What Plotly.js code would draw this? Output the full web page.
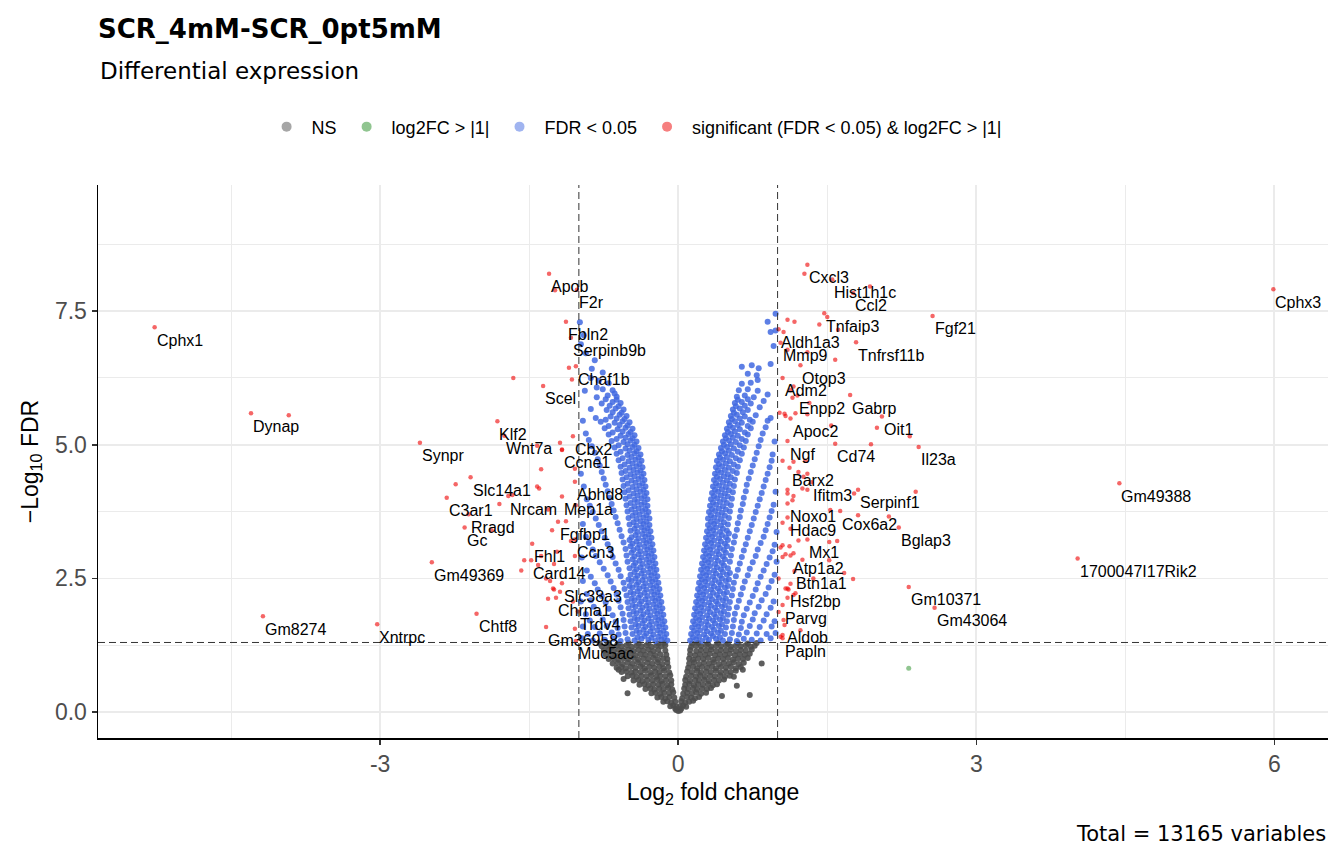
<!DOCTYPE html>
<html>
<head>
<meta charset="utf-8">
<script src="https://cdn.plot.ly/plotly-3.0.1.min.js"></script>
<style>
  html, body { margin: 0; padding: 0; background: #fff; }
  #plot { width: 1344px; height: 864px; }
</style>
</head>
<body>
<div id="plot"></div>
<script>
// thresholds used for the dashed cut-off lines
const fcCutoff = 1;
const fdrCutoff = 0.05;

// non-significant genes [log2FC, -log10 FDR]
const nsPoints = [
  [-0.02,0.04],[0.02,0.03],[0,0.02],[-0.03,0.06],[0.03,0.06],
  [-0.08,0.11],[-0.05,0.12],[-0.02,0.10],[0.02,0.11],[0.05,0.12],[0.08,0.10],
  [-0.15,0.19],[-0.11,0.20],[-0.07,0.18],[-0.03,0.19],[0.03,0.20],[0.07,0.18],[0.11,0.19],[0.15,0.21],
  [-0.21,0.27],[-0.17,0.28],[-0.13,0.26],[-0.09,0.28],[-0.04,0.27],[0.04,0.26],[0.09,0.28],[0.13,0.27],[0.17,0.26],[0.21,0.28],
  [-0.27,0.35],[-0.23,0.36],[-0.18,0.34],[-0.14,0.36],[-0.09,0.35],[-0.05,0.37],[0.05,0.34],[0.09,0.36],[0.14,0.35],[0.18,0.37],[0.23,0.34],[0.28,0.36],
  [-0.33,0.43],[-0.28,0.44],[-0.24,0.42],[-0.19,0.44],[-0.15,0.43],[-0.10,0.45],[-0.06,0.42],[0.06,0.44],[0.10,0.43],[0.15,0.45],[0.19,0.42],[0.24,0.44],[0.29,0.43],[0.33,0.45],
  [-0.39,0.51],[-0.34,0.52],[-0.30,0.50],[-0.25,0.52],[-0.20,0.51],[-0.16,0.53],[-0.11,0.50],[-0.07,0.52],[0.07,0.51],[0.11,0.53],[0.16,0.50],[0.20,0.52],[0.25,0.51],[0.30,0.53],[0.35,0.50],[0.39,0.52],
  [-0.45,0.59],[-0.40,0.60],[-0.36,0.58],[-0.31,0.60],[-0.26,0.59],[-0.21,0.61],[-0.17,0.58],[-0.12,0.60],[-0.07,0.59],[0.07,0.60],[0.12,0.58],[0.17,0.60],[0.21,0.59],[0.26,0.61],[0.31,0.58],[0.36,0.60],[0.41,0.59],[0.46,0.61],
  [-0.51,0.67],[-0.46,0.68],[-0.42,0.66],[-0.37,0.68],[-0.32,0.67],[-0.27,0.69],[-0.22,0.66],[-0.18,0.68],[-0.13,0.67],[-0.08,0.69],[0.08,0.66],[0.13,0.68],[0.18,0.67],[0.22,0.69],[0.27,0.66],[0.32,0.68],[0.37,0.67],[0.42,0.69],[0.47,0.66],[0.52,0.68],
  [-0.57,0.75],[-0.52,0.76],[-0.47,0.74],[-0.43,0.76],[-0.38,0.75],[-0.33,0.77],[-0.28,0.74],[-0.23,0.76],[-0.19,0.75],[-0.14,0.77],[-0.09,0.74],[0.09,0.76],[0.14,0.75],[0.19,0.77],[0.23,0.74],[0.28,0.76],[0.33,0.75],[0.38,0.77],[0.43,0.74],[0.48,0.76],[0.53,0.75],[0.58,0.77],
  [-0.62,0.83],[-0.57,0.84],[-0.53,0.82],[-0.48,0.84],[-0.43,0.83],[-0.38,0.85],[-0.34,0.82],[-0.29,0.84],[-0.24,0.83],[-0.19,0.85],[-0.15,0.82],[-0.10,0.84],[0.10,0.83],[0.15,0.85],[0.19,0.82],[0.24,0.84],[0.29,0.83],[0.34,0.85],[0.38,0.82],[0.43,0.84],[0.48,0.83],[0.53,0.85],[0.58,0.82],[0.63,0.84],
  [-0.66,0.91],[-0.61,0.92],[-0.56,0.90],[-0.51,0.92],[-0.46,0.91],[-0.41,0.93],[-0.36,0.90],[-0.31,0.92],[-0.26,0.91],[-0.21,0.93],[-0.16,0.90],[-0.11,0.92],[0.11,0.91],[0.16,0.93],[0.21,0.90],[0.26,0.92],[0.31,0.91],[0.36,0.93],[0.41,0.90],[0.46,0.92],[0.51,0.91],[0.56,0.93],[0.61,0.90],[0.66,0.92],
  [-0.70,0.99],[-0.65,1.00],[-0.60,0.98],[-0.55,1.00],[-0.50,0.99],[-0.45,1.01],[-0.40,0.98],[-0.35,1.00],[-0.30,0.99],[-0.25,1.01],[-0.20,0.98],[-0.15,1.00],[-0.11,0.99],[0.11,1.00],[0.15,0.98],[0.20,1.00],[0.25,0.99],[0.30,1.01],[0.35,0.98],[0.40,1.00],[0.45,0.99],[0.50,1.01],[0.55,0.98],[0.60,1.00],[0.65,0.99],[0.70,1.01],
  [-0.73,1.07],[-0.68,1.08],[-0.63,1.06],[-0.58,1.08],[-0.53,1.07],[-0.48,1.09],[-0.43,1.06],[-0.38,1.08],[-0.33,1.07],[-0.28,1.09],[-0.23,1.06],[-0.18,1.08],[-0.12,1.07],[0.12,1.08],[0.17,1.06],[0.22,1.08],[0.27,1.07],[0.32,1.09],[0.37,1.06],[0.42,1.08],[0.47,1.07],[0.52,1.09],[0.57,1.06],[0.62,1.08],[0.67,1.07],[0.72,1.09],
  [-0.75,1.15],[-0.70,1.16],[-0.65,1.14],[-0.60,1.16],[-0.55,1.15],[-0.50,1.17],[-0.45,1.14],[-0.40,1.16],[-0.35,1.15],[-0.30,1.17],[-0.25,1.14],[-0.20,1.16],[-0.13,1.15],[0.12,1.16],[0.18,1.14],[0.23,1.16],[0.28,1.15],[0.33,1.17],[0.38,1.14],[0.43,1.16],[0.48,1.15],[0.53,1.17],[0.58,1.14],[0.63,1.16],[0.68,1.15],[0.74,1.17],
  [-0.77,1.23],[-0.72,1.24],[-0.67,1.22],[-0.62,1.24],[-0.57,1.23],[-0.52,1.25],[-0.47,1.22],[-0.42,1.24],[-0.37,1.23],[-0.32,1.25],[-0.27,1.22],[-0.22,1.24],[-0.17,1.23],[-0.13,1.25],[0.13,1.22],[0.18,1.24],[0.23,1.23],[0.28,1.25],[0.33,1.22],[0.38,1.24],[0.43,1.23],[0.48,1.25],[0.53,1.22],[0.58,1.24],[0.63,1.23],[0.68,1.25],[0.73,1.22],[0.77,1.24],
  [-0.79,1.28],[-0.70,1.29],[-0.60,1.28],[-0.50,1.29],[-0.40,1.28],[-0.30,1.29],[-0.20,1.28],[-0.14,1.29],[0.14,1.28],[0.20,1.29],[0.30,1.28],[0.40,1.29],[0.50,1.28],[0.60,1.29],[0.70,1.28],[0.79,1.29],
  [-0.51,0.35],[0.44,0.30],[0.72,0.32],[0.59,0.49],[0.65,0.79],[0.84,0.91],[-0.60,0.79],[-0.55,0.62],[0.56,0.66]
];

// |log2FC| > 1 but FDR not significant
const fcPoints = [[2.32,0.82]];

// FDR < 0.05, down side
const fdrDown = [
  [-0.11,1.34],[-0.17,1.36],[-0.23,1.33],[-0.30,1.35],[-0.37,1.37],[-0.44,1.34],[-0.51,1.36],[-0.58,1.33],[-0.65,1.37],[-0.74,1.35],[-0.86,1.34],[-0.97,1.38],
  [-0.12,1.46],[-0.18,1.48],[-0.25,1.45],[-0.32,1.47],[-0.39,1.49],[-0.46,1.46],[-0.53,1.48],[-0.60,1.45],[-0.67,1.49],[-0.79,1.47],[-0.91,1.46],
  [-0.13,1.58],[-0.19,1.60],[-0.26,1.57],[-0.33,1.59],[-0.40,1.61],[-0.47,1.58],[-0.54,1.60],[-0.61,1.57],[-0.72,1.61],[-0.84,1.59],[-0.96,1.60],
  [-0.14,1.70],[-0.20,1.72],[-0.27,1.69],[-0.34,1.71],[-0.41,1.73],[-0.48,1.70],[-0.55,1.72],[-0.63,1.69],[-0.76,1.73],[-0.89,1.71],
  [-0.15,1.82],[-0.21,1.84],[-0.28,1.81],[-0.35,1.83],[-0.42,1.85],[-0.49,1.82],[-0.56,1.84],[-0.66,1.81],[-0.80,1.85],[-0.93,1.83],
  [-0.16,1.94],[-0.22,1.96],[-0.29,1.93],[-0.36,1.95],[-0.43,1.97],[-0.50,1.94],[-0.58,1.96],[-0.70,1.93],[-0.85,1.97],
  [-0.17,2.06],[-0.23,2.08],[-0.30,2.05],[-0.37,2.07],[-0.44,2.09],[-0.51,2.06],[-0.60,2.08],[-0.73,2.05],[-0.88,2.09],[-0.98,2.07],
  [-0.18,2.18],[-0.24,2.20],[-0.31,2.17],[-0.38,2.19],[-0.45,2.21],[-0.52,2.18],[-0.62,2.20],[-0.77,2.17],[-0.92,2.21],
  [-0.19,2.30],[-0.25,2.32],[-0.32,2.29],[-0.39,2.31],[-0.46,2.33],[-0.54,2.30],[-0.65,2.32],[-0.81,2.29],
  [-0.20,2.42],[-0.26,2.44],[-0.33,2.41],[-0.40,2.43],[-0.47,2.45],[-0.55,2.42],[-0.68,2.44],[-0.84,2.41],[-0.96,2.45],
  [-0.21,2.54],[-0.27,2.56],[-0.34,2.53],[-0.41,2.55],[-0.48,2.57],[-0.58,2.54],[-0.71,2.56],[-0.88,2.53],
  [-0.22,2.66],[-0.28,2.68],[-0.35,2.65],[-0.42,2.67],[-0.49,2.69],[-0.60,2.66],[-0.75,2.68],[-0.92,2.65],
  [-0.23,2.78],[-0.29,2.80],[-0.36,2.77],[-0.43,2.79],[-0.51,2.81],[-0.63,2.78],[-0.79,2.80],
  [-0.24,2.90],[-0.30,2.92],[-0.37,2.89],[-0.44,2.91],[-0.52,2.93],[-0.66,2.90],[-0.83,2.92],[-0.97,2.89],
  [-0.25,3.02],[-0.31,3.04],[-0.38,3.01],[-0.45,3.03],[-0.53,3.05],[-0.68,3.02],[-0.86,3.04],
  [-0.26,3.14],[-0.32,3.16],[-0.39,3.13],[-0.46,3.15],[-0.55,3.17],[-0.71,3.14],[-0.90,3.16],
  [-0.27,3.26],[-0.33,3.28],[-0.40,3.25],[-0.47,3.27],[-0.57,3.29],[-0.74,3.26],[-0.93,3.28],
  [-0.28,3.38],[-0.34,3.40],[-0.41,3.37],[-0.48,3.39],[-0.59,3.41],[-0.77,3.38],
  [-0.29,3.50],[-0.35,3.52],[-0.42,3.49],[-0.49,3.51],[-0.61,3.53],[-0.80,3.50],[-0.96,3.52],
  [-0.29,3.62],[-0.35,3.64],[-0.42,3.61],[-0.50,3.63],[-0.63,3.65],[-0.83,3.62],
  [-0.30,3.74],[-0.36,3.76],[-0.43,3.73],[-0.51,3.75],[-0.65,3.77],[-0.86,3.74],
  [-0.31,3.86],[-0.37,3.88],[-0.44,3.85],[-0.52,3.87],[-0.67,3.89],[-0.89,3.86],
  [-0.31,3.98],[-0.37,4.00],[-0.44,3.97],[-0.53,3.99],[-0.69,4.01],[-0.92,3.98],
  [-0.32,4.10],[-0.38,4.12],[-0.45,4.09],[-0.54,4.11],[-0.71,4.13],
  [-0.33,4.22],[-0.39,4.24],[-0.46,4.21],[-0.55,4.23],[-0.73,4.25],[-0.95,4.22],
  [-0.34,4.34],[-0.40,4.36],[-0.47,4.33],[-0.56,4.35],[-0.75,4.37],
  [-0.35,4.46],[-0.41,4.48],[-0.48,4.45],[-0.57,4.47],[-0.77,4.49],[-0.98,4.46],
  [-0.36,4.58],[-0.42,4.60],[-0.49,4.57],[-0.58,4.59],[-0.79,4.61],
  [-0.37,4.70],[-0.43,4.72],[-0.50,4.69],[-0.60,4.71],[-0.81,4.73],
  [-0.38,4.82],[-0.44,4.84],[-0.51,4.81],[-0.62,4.83],[-0.84,4.85],
  [-0.40,4.94],[-0.46,4.96],[-0.53,4.93],[-0.64,4.95],[-0.87,4.97],
  [-0.42,5.06],[-0.48,5.08],[-0.55,5.05],[-0.67,5.07],[-0.90,5.09],
  [-0.44,5.18],[-0.50,5.20],[-0.58,5.17],[-0.70,5.19],[-0.93,5.21],
  [-0.46,5.30],[-0.53,5.32],[-0.61,5.29],[-0.74,5.31],
  [-0.49,5.42],[-0.56,5.44],[-0.64,5.41],[-0.78,5.43],[-0.96,5.45],
  [-0.52,5.54],[-0.59,5.56],[-0.68,5.53],[-0.83,5.50],
  [-0.55,5.66],[-0.63,5.68],[-0.72,5.65],[-0.88,5.67],
  [-0.58,5.78],[-0.66,5.80],[-0.77,5.77],
  [-0.62,5.90],[-0.64,5.96],[-0.71,5.92],[-0.82,5.89],
  [-0.66,6.02],[-0.76,6.04],[-0.82,6.07],[-0.94,6.01],
  [-0.70,6.15],[-0.80,6.20],[-0.88,6.25],
  [-0.76,6.35],[-0.87,6.42],[-0.84,6.58],[-0.93,6.71],[-0.98,6.88],[-0.95,7.05],[-0.99,7.29]
];

// FDR < 0.05, down side, crowded part next to the NS wedge
const fdrDownCore = [
  [-0.14,1.40],[-0.20,1.41],[-0.27,1.39],[-0.34,1.42],[-0.41,1.40],
  [-0.15,1.52],[-0.21,1.53],[-0.28,1.51],[-0.35,1.54],[-0.42,1.52],
  [-0.16,1.64],[-0.22,1.65],[-0.29,1.63],[-0.36,1.66],[-0.43,1.64],
  [-0.17,1.76],[-0.23,1.77],[-0.30,1.75],[-0.37,1.78],[-0.44,1.76],
  [-0.18,1.88],[-0.24,1.89],[-0.31,1.87],[-0.38,1.90],[-0.45,1.88],
  [-0.19,2.00],[-0.25,2.01],[-0.32,1.99],[-0.39,2.02],[-0.46,2.00],
  [-0.20,2.12],[-0.26,2.13],[-0.33,2.11],[-0.40,2.14],[-0.47,2.12],
  [-0.21,2.24],[-0.27,2.25],[-0.34,2.23],[-0.41,2.26],[-0.48,2.24],
  [-0.22,2.36],[-0.28,2.37],[-0.35,2.35],[-0.42,2.38],[-0.49,2.36],
  [-0.23,2.48],[-0.29,2.49],[-0.36,2.47],[-0.43,2.50],[-0.50,2.48],
  [-0.24,2.60],[-0.30,2.61],[-0.37,2.59],[-0.44,2.62],
  [-0.25,2.72],[-0.31,2.73],[-0.38,2.71],[-0.45,2.74],
  [-0.26,2.84],[-0.32,2.85],[-0.39,2.83],[-0.46,2.86],
  [-0.27,2.96],[-0.33,2.97],[-0.40,2.95],[-0.47,2.98],
  [-0.28,3.08],[-0.34,3.09],[-0.41,3.07],[-0.48,3.10],
  [-0.29,3.20],[-0.35,3.21],[-0.42,3.19],[-0.49,3.22],
  [-0.30,3.32],[-0.36,3.33],[-0.43,3.31],
  [-0.31,3.44],[-0.37,3.45],[-0.44,3.43],
  [-0.32,3.56],[-0.38,3.57],[-0.45,3.55],
  [-0.32,3.68],[-0.39,3.69],[-0.46,3.67],
  [-0.33,3.80],[-0.40,3.81],[-0.47,3.79],
  [-0.34,3.92],[-0.41,3.93],[-0.48,3.91],
  [-0.34,4.04],[-0.41,4.05],[-0.49,4.03],
  [-0.35,4.16],[-0.42,4.17],[-0.50,4.15],
  [-0.36,4.28],[-0.43,4.29],[-0.51,4.27],
  [-0.37,4.40],[-0.44,4.41],[-0.52,4.39],
  [-0.38,4.52],[-0.45,4.53],[-0.53,4.51],
  [-0.39,4.64],[-0.46,4.65],[-0.54,4.63],
  [-0.40,4.76],[-0.47,4.77],[-0.56,4.75],
  [-0.42,4.88],[-0.49,4.89],[-0.58,4.87],
  [-0.44,5.00],[-0.51,5.01],[-0.60,4.99],
  [-0.46,5.12],[-0.53,5.13],[-0.62,5.11],
  [-0.48,5.24],[-0.56,5.25],[-0.66,5.23],
  [-0.51,5.36],[-0.59,5.37],[-0.70,5.35],
  [-0.54,5.48],[-0.62,5.49],[-0.73,5.47],
  [-0.57,5.60],[-0.66,5.61],
  [-0.60,5.72],[-0.69,5.73],
  [-0.62,5.84],[-0.73,5.85]
];

// FDR < 0.05, up side
const fdrUp = [
  [0.12,1.34],[0.18,1.36],[0.24,1.33],[0.31,1.35],[0.38,1.37],[0.45,1.34],[0.52,1.36],[0.59,1.33],[0.66,1.37],[0.74,1.35],[0.83,1.34],[0.93,1.38],
  [0.13,1.46],[0.19,1.48],[0.26,1.45],[0.33,1.47],[0.40,1.49],[0.47,1.46],[0.54,1.48],[0.61,1.45],[0.69,1.49],[0.79,1.47],[0.89,1.46],[0.98,1.48],
  [0.14,1.58],[0.20,1.60],[0.27,1.57],[0.34,1.59],[0.41,1.61],[0.48,1.58],[0.55,1.60],[0.63,1.57],[0.72,1.61],[0.82,1.59],[0.94,1.60],
  [0.15,1.70],[0.21,1.72],[0.28,1.69],[0.35,1.71],[0.42,1.73],[0.49,1.70],[0.56,1.72],[0.64,1.69],[0.75,1.73],[0.86,1.71],[0.97,1.70],
  [0.16,1.82],[0.22,1.84],[0.29,1.81],[0.36,1.83],[0.43,1.85],[0.50,1.82],[0.57,1.84],[0.66,1.81],[0.77,1.85],[0.89,1.83],
  [0.17,1.94],[0.23,1.96],[0.30,1.93],[0.37,1.95],[0.44,1.97],[0.51,1.94],[0.59,1.96],[0.69,1.93],[0.81,1.97],[0.93,1.95],
  [0.18,2.06],[0.24,2.08],[0.31,2.05],[0.38,2.07],[0.45,2.09],[0.52,2.06],[0.61,2.08],[0.72,2.05],[0.84,2.09],[0.96,2.07],
  [0.19,2.18],[0.25,2.20],[0.32,2.17],[0.39,2.19],[0.46,2.21],[0.54,2.18],[0.63,2.20],[0.75,2.17],[0.88,2.21],
  [0.20,2.30],[0.26,2.32],[0.33,2.29],[0.40,2.31],[0.47,2.33],[0.55,2.30],[0.65,2.32],[0.78,2.29],[0.91,2.33],
  [0.21,2.42],[0.27,2.44],[0.34,2.41],[0.41,2.43],[0.48,2.45],[0.56,2.42],[0.67,2.44],[0.80,2.41],[0.94,2.45],
  [0.22,2.54],[0.28,2.56],[0.35,2.53],[0.42,2.55],[0.49,2.57],[0.58,2.54],[0.70,2.56],[0.83,2.53],[0.97,2.57],
  [0.23,2.66],[0.29,2.68],[0.36,2.65],[0.43,2.67],[0.50,2.69],[0.60,2.66],[0.72,2.68],[0.86,2.65],
  [0.24,2.78],[0.30,2.80],[0.37,2.77],[0.44,2.79],[0.52,2.81],[0.62,2.78],[0.75,2.80],[0.89,2.77],[0.99,2.81],
  [0.25,2.90],[0.31,2.92],[0.38,2.89],[0.45,2.91],[0.53,2.93],[0.64,2.90],[0.78,2.92],[0.92,2.89],
  [0.26,3.02],[0.32,3.04],[0.39,3.01],[0.46,3.03],[0.54,3.05],[0.66,3.02],[0.80,3.04],[0.95,3.01],
  [0.27,3.14],[0.33,3.16],[0.40,3.13],[0.47,3.15],[0.56,3.17],[0.68,3.14],[0.83,3.16],[0.97,3.13],
  [0.28,3.26],[0.34,3.28],[0.41,3.25],[0.48,3.27],[0.57,3.29],[0.70,3.26],[0.86,3.28],
  [0.29,3.38],[0.35,3.40],[0.42,3.37],[0.49,3.39],[0.59,3.41],[0.72,3.38],[0.88,3.40],[0.99,3.37],
  [0.30,3.50],[0.36,3.52],[0.43,3.49],[0.50,3.51],[0.60,3.53],[0.74,3.50],[0.90,3.52],
  [0.30,3.62],[0.36,3.64],[0.43,3.61],[0.51,3.63],[0.62,3.65],[0.76,3.62],[0.92,3.64],
  [0.31,3.74],[0.37,3.76],[0.44,3.73],[0.52,3.75],[0.63,3.77],[0.78,3.74],[0.94,3.76],
  [0.32,3.86],[0.38,3.88],[0.45,3.85],[0.53,3.87],[0.65,3.89],[0.80,3.86],[0.96,3.88],
  [0.33,3.98],[0.39,4.00],[0.46,3.97],[0.54,3.99],[0.66,4.01],[0.82,3.98],
  [0.34,4.10],[0.40,4.12],[0.47,4.09],[0.55,4.11],[0.68,4.13],[0.84,4.10],[0.98,4.12],
  [0.35,4.22],[0.41,4.24],[0.48,4.21],[0.56,4.23],[0.69,4.25],[0.86,4.22],
  [0.36,4.34],[0.42,4.36],[0.49,4.33],[0.57,4.35],[0.71,4.37],[0.88,4.34],
  [0.37,4.46],[0.43,4.48],[0.50,4.45],[0.59,4.47],[0.73,4.49],[0.90,4.46],
  [0.38,4.58],[0.44,4.60],[0.51,4.57],[0.60,4.59],[0.75,4.61],[0.92,4.58],
  [0.39,4.70],[0.45,4.72],[0.52,4.69],[0.62,4.71],[0.77,4.73],[0.94,4.70],
  [0.41,4.82],[0.47,4.84],[0.54,4.81],[0.64,4.83],[0.79,4.85],[0.95,4.82],
  [0.43,4.94],[0.49,4.96],[0.56,4.93],[0.66,4.95],[0.81,4.97],
  [0.45,5.06],[0.51,5.08],[0.58,5.05],[0.68,5.07],[0.83,5.09],[0.97,5.06],
  [0.47,5.18],[0.53,5.20],[0.60,5.17],[0.70,5.19],[0.85,5.21],
  [0.49,5.30],[0.55,5.32],[0.62,5.29],[0.73,5.31],[0.88,5.33],
  [0.51,5.42],[0.57,5.44],[0.64,5.41],[0.75,5.43],[0.90,5.45],
  [0.53,5.54],[0.59,5.56],[0.67,5.53],[0.78,5.55],[0.93,5.50],
  [0.55,5.66],[0.62,5.68],[0.70,5.65],[0.82,5.70],
  [0.57,5.78],[0.64,5.80],[0.73,5.77],[0.86,5.82],
  [0.59,5.90],[0.67,5.92],[0.76,5.89],[0.90,5.94],
  [0.61,6.02],[0.70,6.04],[0.80,6.01],
  [0.64,6.14],[0.73,6.16],[0.80,6.21],
  [0.70,6.33],[0.79,6.30],[0.64,6.46],[0.74,6.49],[0.81,6.43],[0.93,6.51],[0.96,6.85],[0.93,7.11],[0.98,7.14],[0.90,7.30],[0.98,7.45]
];

// FDR < 0.05, up side, crowded part next to the NS wedge
const fdrUpCore = [
  [0.15,1.40],[0.21,1.41],[0.28,1.39],[0.35,1.42],[0.42,1.40],
  [0.16,1.52],[0.22,1.53],[0.29,1.51],[0.36,1.54],[0.43,1.52],
  [0.17,1.64],[0.23,1.65],[0.30,1.63],[0.37,1.66],[0.44,1.64],
  [0.18,1.76],[0.24,1.77],[0.31,1.75],[0.38,1.78],[0.45,1.76],
  [0.19,1.88],[0.25,1.89],[0.32,1.87],[0.39,1.90],[0.46,1.88],
  [0.20,2.00],[0.26,2.01],[0.33,1.99],[0.40,2.02],[0.47,2.00],
  [0.21,2.12],[0.27,2.13],[0.34,2.11],[0.41,2.14],[0.48,2.12],
  [0.22,2.24],[0.28,2.25],[0.35,2.23],[0.42,2.26],[0.49,2.24],
  [0.23,2.36],[0.29,2.37],[0.36,2.35],[0.43,2.38],[0.50,2.36],
  [0.24,2.48],[0.30,2.49],[0.37,2.47],[0.44,2.50],[0.51,2.48],
  [0.25,2.60],[0.31,2.61],[0.38,2.59],[0.45,2.62],[0.52,2.60],
  [0.26,2.72],[0.32,2.73],[0.39,2.71],[0.46,2.74],
  [0.27,2.84],[0.33,2.85],[0.40,2.83],[0.47,2.86],
  [0.28,2.96],[0.34,2.97],[0.41,2.95],[0.48,2.98],
  [0.29,3.08],[0.35,3.09],[0.42,3.07],[0.49,3.10],
  [0.30,3.20],[0.36,3.21],[0.43,3.19],[0.50,3.22],
  [0.31,3.32],[0.37,3.33],[0.44,3.31],[0.51,3.34],
  [0.32,3.44],[0.38,3.45],[0.45,3.43],
  [0.33,3.56],[0.39,3.57],[0.46,3.55],
  [0.33,3.68],[0.40,3.69],[0.47,3.67],
  [0.34,3.80],[0.41,3.81],[0.48,3.79],
  [0.35,3.92],[0.42,3.93],[0.49,3.91],
  [0.36,4.04],[0.43,4.05],[0.50,4.03],
  [0.37,4.16],[0.44,4.17],[0.51,4.15],
  [0.38,4.28],[0.45,4.29],[0.52,4.27],
  [0.39,4.40],[0.46,4.41],[0.53,4.39],
  [0.40,4.52],[0.47,4.53],[0.55,4.51],
  [0.41,4.64],[0.48,4.65],[0.56,4.63],
  [0.42,4.76],[0.49,4.77],[0.58,4.75],
  [0.44,4.88],[0.51,4.89],[0.60,4.87],
  [0.46,5.00],[0.53,5.01],[0.62,4.99],
  [0.48,5.12],[0.55,5.13],[0.64,5.11],
  [0.50,5.24],[0.57,5.25],[0.67,5.23],
  [0.52,5.36],[0.60,5.37],[0.70,5.35],
  [0.54,5.48],[0.62,5.49],[0.72,5.47],
  [0.56,5.60],[0.65,5.61],
  [0.58,5.72],[0.67,5.73],
  [0.60,5.84],[0.70,5.85]
];

// significant and labelled
const sigGenes = ['Cphx1','Dynap','Synpr','Klf2','Wnt7a','Scel','Apob','F2r','Fbln2','Serpinb9b','Chaf1b','Cbx2','Ccne1',
  'Slc14a1','C3ar1','Nrcam','Mep1a','Rragd','Gc','Abhd8','Fgfbp1','Ccn3','Fhl1','Card14','Gm49369','Slc38a3','Chrna1',
  'Trdv4','Gm36958','Muc5ac','Gm8274','Xntrpc','Chtf8',
  'Cxcl3','Hist1h1c','Ccl2','Tnfaip3','Fgf21','Aldh1a3','Mmp9','Tnfrsf11b','Otop3','Adm2','Enpp2','Gabrp','Oit1','Apoc2',
  'Il23a','Cd74','Ngf','Barx2','Ifitm3','Serpinf1','Noxo1','Hdac9','Cox6a2','Bglap3','Mx1','Atp1a2','Btn1a1','Hsf2bp',
  'Parvg','Aldob','Papln','Gm10371','Gm43064','Cphx3','Gm49388','1700047I17Rik2'];
const sigGeneX = [-5.27,-4.30,-2.60,-1.82,-1.75,-1.36,-1.30,-1.02,-1.13,-1.08,-1.03,-1.06,-1.17,
  -2.09,-2.33,-1.71,-1.17,-2.11,-2.15,-1.04,-1.21,-1.04,-1.47,-1.48,-2.48,-1.17,-1.23,
  -1.01,-1.33,-1.03,-4.18,-3.03,-2.03,
  1.30,1.55,1.76,1.47,2.56,1.01,1.03,1.79,1.23,1.05,1.20,1.73,2.05,1.13,
  2.42,1.58,1.10,1.12,1.34,1.81,1.10,1.10,1.63,2.22,1.30,1.13,1.17,1.10,
  1.05,1.07,1.05,2.32,2.58,5.99,4.44,4.02];
const sigGeneY = [7.20,5.59,5.04,5.44,5.17,6.10,8.20,7.90,7.30,7.00,6.47,5.16,4.91,
  4.39,4.01,4.04,4.03,3.70,3.45,4.31,3.56,3.23,3.15,2.84,2.80,2.41,2.14,
  1.88,1.59,1.33,1.79,1.64,1.84,
  8.37,8.09,7.84,7.46,7.41,7.16,6.91,6.92,6.49,6.25,5.92,5.93,5.53,5.49,
  4.96,5.02,5.07,4.57,4.30,4.16,3.90,3.64,3.76,3.45,3.23,2.93,2.64,2.31,
  2.00,1.63,1.38,2.34,1.95,7.91,4.28,2.87];

// significant, not labelled
const sigOther = [
  [-3.92,5.55],[-1.66,6.25],[-1.24,7.89],[-1.10,6.44],[-1.07,6.22],[-1.42,4.98],[-1.19,5.04],[-1.38,4.54],
  [-2.24,4.26],[-1.67,4.06],[-1.42,4.22],[-1.40,4.18],[-1.80,3.89],[-1.31,3.79],[-1.88,3.40],[-1.27,3.40],
  [-1.13,3.57],[-1.55,2.84],[-1.58,2.65],[-1.41,2.75],[-1.38,2.92],[-1.25,2.77],[-1.22,3.00],[-1.33,2.50],
  [-1.29,2.45],[-1.25,2.29],[-1.19,2.25],[-1.31,2.12],[-1.04,1.56],[-1.06,2.07],[-1.03,3.87],[-1.04,2.92],
  [-1.08,3.20],[-1.26,2.31],[-1.17,4.90],[-1.04,4.55],
  [1.27,8.20],[1.93,7.96],[1.50,7.39],[1.42,7.25],[1.61,7.15],[1.10,7.34],[1.17,7.30],[1.06,7.11],
  [1.10,6.78],[1.30,6.73],[1.58,6.59],[1.16,6.09],[1.13,6.02],[1.15,5.88],[1.32,5.78],[1.18,5.59],
  [1.30,5.57],[1.07,5.58],[1.02,5.60],[1.08,5.54],[2.00,5.32],[2.33,5.16],[1.54,5.36],[1.94,5.01],
  [1.05,4.70],[1.28,4.70],[1.21,4.49],[1.30,4.46],[1.26,4.40],[1.30,4.16],[1.25,4.18],[1.10,4.16],
  [1.16,4.04],[1.15,3.96],[1.10,4.09],[1.16,4.68],[1.77,4.09],[2.39,4.12],[1.53,3.78],[1.05,3.54],
  [1.13,3.43],[1.21,3.21],[1.52,3.18],[1.60,3.20],[1.81,3.68],[2.12,3.66],[1.05,3.12],[1.12,3.10],
  [1.16,2.97],[1.08,2.95],[1.25,2.85],[1.52,2.84],[1.05,2.90],[1.03,3.08],[1.67,2.60],[1.76,2.49],
  [1.13,2.40],[1.08,2.31],[1.11,2.29],[1.36,2.50],[1.01,2.50],[1.16,2.19],[1.18,2.22],[1.10,2.14],
  [1.06,1.72],[1.23,1.53],[1.05,1.44],[1.01,1.87],[1.03,1.41]
];

const xTickVals = [-3, 0, 3, 6];
const xTickText = ['-3', '0', '3', '6'];

const groupNames = ['NS', 'log2FC > |1|', 'FDR < 0.05', 'significant (FDR < 0.05) & log2FC > |1|'];
const groupColors = ['#4d4d4d', '#228b22', '#4169e1', '#ee0000'];

const xs = (pts) => pts.map(p => p[0]);
const ys = (pts) => pts.map(p => p[1]);

function dots(x, y, color, size, opacity) {
  return {
    type: 'scatter', mode: 'markers', x: x, y: y,
    marker: { color: color, size: size, opacity: opacity, line: { width: 0 } },
    showlegend: false, hoverinfo: 'skip', cliponaxis: true,
  };
}

const fdrAll = fdrDown.concat(fdrDownCore, fdrUp, fdrUpCore);
const traces = [
  dots(xs(nsPoints), ys(nsPoints), groupColors[0], 6, 0.9),
  dots(xs(fcPoints), ys(fcPoints), groupColors[1], 5, 0.5),
  dots(xs(fdrAll), ys(fdrAll), groupColors[2], 6, 0.85),
  dots(sigGeneX.concat(xs(sigOther)), sigGeneY.concat(ys(sigOther)), groupColors[3], 4.5, 0.6),
];

// legend-only entries with bigger keys
groupNames.forEach((name, i) => {
  traces.push({
    type: 'scatter', mode: 'markers', x: [null], y: [null], name: name,
    marker: { color: groupColors[i], size: 10, opacity: 0.5 },
    showlegend: true, hoverinfo: 'skip',
  });
});

const labelAnnotations = sigGenes.map((g, i) => ({
  x: sigGeneX[i], y: sigGeneY[i], xref: 'x', yref: 'y',
  text: g, showarrow: false, xanchor: 'left', yanchor: 'middle', yshift: -13,
  font: { family: 'Liberation Sans, Arial, sans-serif', size: 16, color: '#000' },
}));

const fdrLine = -Math.log10(fdrCutoff);
const dashLine = { color: '#333', width: 1, dash: '7px,4px' };

const layout = {
  width: 1344, height: 864,
  margin: { l: 98, r: 16, t: 185, b: 126 },
  paper_bgcolor: '#fff', plot_bgcolor: '#fff',
  font: { family: 'Liberation Sans, Arial, sans-serif', color: '#000' },
  title: {
    text: 'SCR_4mM-SCR_0pt5mM',
    font: { family: 'DejaVu Sans, sans-serif', size: 26, weight: 'bold', color: '#000' },
    xref: 'container', x: 98 / 1344, xanchor: 'left',
    yref: 'container', y: 1 - 29 / 864, yanchor: 'middle',
  },
  showlegend: true,
  legend: {
    orientation: 'h', x: 0.133, xanchor: 'left', y: 1.105, yanchor: 'middle',
    font: { size: 18, color: '#000' }, itemwidth: 40, bgcolor: 'rgba(0,0,0,0)',
  },
  xaxis: {
    range: [-5.84, 6.54], tickmode: 'array', tickvals: xTickVals, ticktext: xTickText,
    showgrid: true, gridcolor: '#ebebeb', gridwidth: 1.8, zeroline: false,
    minor: { tickmode: 'linear', tick0: 0, dtick: 1.5, showgrid: true, gridcolor: '#ebebeb', gridwidth: 1, ticklen: 0 },
    showline: true, linecolor: '#000', linewidth: 1.5,
    ticks: 'outside', ticklen: 5, tickwidth: 1.5, tickcolor: '#333',
    tickfont: { size: 23, color: '#4d4d4d' },
    title: { text: 'Log<sub>2</sub> fold change', font: { size: 23, color: '#000' }, standoff: 8 },
  },
  yaxis: {
    range: [-0.486, 9.86], tickmode: 'linear', tick0: 0, dtick: 2.5, tickformat: '.1f',
    showgrid: true, gridcolor: '#ebebeb', gridwidth: 1.8, zeroline: false,
    minor: { tickmode: 'linear', tick0: 0, dtick: 1.25, showgrid: true, gridcolor: '#ebebeb', gridwidth: 1, ticklen: 0 },
    showline: true, linecolor: '#000', linewidth: 1.5,
    ticks: 'outside', ticklen: 5, tickwidth: 1.5, tickcolor: '#333',
    tickfont: { size: 23, color: '#4d4d4d' },
    title: { text: '\u2212Log<sub>10</sub> FDR', font: { size: 23, color: '#000' }, standoff: 10 },
  },
  shapes: [
    { type: 'line', xref: 'x', yref: 'paper', x0: -fcCutoff, x1: -fcCutoff, y0: 0, y1: 1, line: dashLine },
    { type: 'line', xref: 'x', yref: 'paper', x0: fcCutoff, x1: fcCutoff, y0: 0, y1: 1, line: dashLine },
    { type: 'line', xref: 'paper', yref: 'y', x0: 0, x1: 1, y0: fdrLine, y1: fdrLine, line: dashLine },
  ],
  annotations: labelAnnotations.concat([
    {
      xref: 'paper', yref: 'paper', x: 0, y: 1.206, xanchor: 'left', yanchor: 'middle',
      text: 'Differential expression', showarrow: false,
      font: { family: 'DejaVu Sans, sans-serif', size: 23, color: '#000' },
    },
    {
      xref: 'paper', yref: 'paper', x: 1, y: -0.1736, xanchor: 'right', yanchor: 'middle',
      text: 'Total = 13165 variables', showarrow: false,
      font: { family: 'DejaVu Sans, sans-serif', size: 21, color: '#000' },
    },
  ]),
  hovermode: false,
};

Plotly.newPlot('plot', traces, layout, { displayModeBar: false, staticPlot: true });
</script>
</body>
</html>
